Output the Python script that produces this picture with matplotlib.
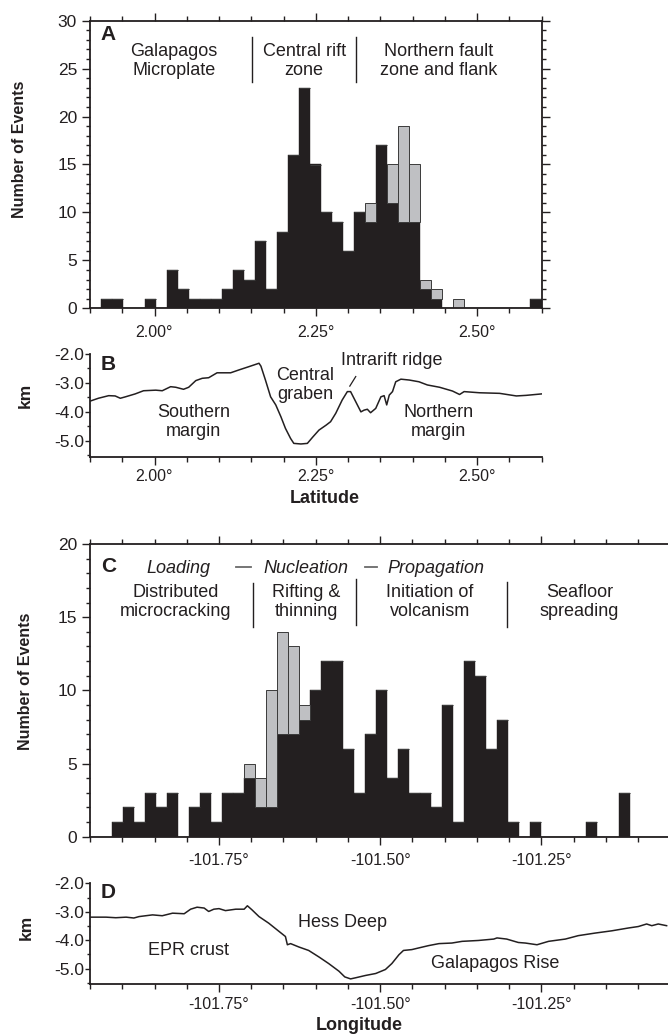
import matplotlib

matplotlib.use("Agg")

import matplotlib.pyplot as plt
import numpy as np
from matplotlib.ticker import FuncFormatter, MultipleLocator

plt.rcParams["font.family"] = ["Liberation Sans", "DejaVu Sans"]
plt.rcParams["axes.unicode_minus"] = False

INK = "#231f20"
GRAY = "#bfc0c3"

# ---- Panel A: events per latitude bin (41 bins, 1.90 - 2.60) ----
LAT_START, LAT_END = 1.90, 2.60
lat_black = [0, 1, 1, 0, 0, 1, 0, 4, 2, 1, 1, 1, 2, 4, 3, 7, 2, 8, 16, 23, 15,
             10, 9, 6, 10, 9, 17, 11, 9, 9, 2, 1, 0, 0, 0, 0, 0, 0, 0, 0, 1]
lat_gray = [0, 0, 0, 0, 0, 0, 0, 0, 0, 0, 0, 0, 0, 0, 0, 0, 0, 0, 0, 0, 0,
            0, 0, 0, 0, 2, 0, 4, 10, 6, 1, 1, 0, 1, 0, 0, 0, 0, 0, 0, 0]

# ---- Panel B: bathymetry along latitude ----
b_lat = [1.900, 1.913, 1.929, 1.939, 1.947, 1.955, 1.970, 1.983, 2.002, 2.012,
         2.025, 2.033, 2.045, 2.053, 2.064, 2.074, 2.084, 2.097, 2.118, 2.131,
         2.146, 2.162, 2.165, 2.172, 2.180, 2.188, 2.196, 2.203, 2.211, 2.216,
         2.227, 2.237, 2.245, 2.255, 2.266, 2.273, 2.281, 2.291, 2.299, 2.304,
         2.312, 2.320, 2.325, 2.330, 2.335, 2.343, 2.351, 2.356, 2.360, 2.364,
         2.369, 2.374, 2.382, 2.395, 2.410, 2.423, 2.442, 2.462, 2.473, 2.480,
         2.504, 2.535, 2.561, 2.576, 2.600]
b_depth = [-3.63, -3.53, -3.44, -3.45, -3.53, -3.48, -3.38, -3.27, -3.25, -3.27,
           -3.13, -3.15, -3.22, -3.15, -2.92, -2.84, -2.82, -2.65, -2.65, -2.55,
           -2.44, -2.32, -2.42, -2.90, -3.48, -3.76, -4.17, -4.57, -4.92, -5.09,
           -5.11, -5.09, -4.88, -4.63, -4.46, -4.34, -4.05, -3.59, -3.30, -3.30,
           -3.65, -4.00, -3.94, -3.91, -4.03, -3.88, -3.48, -3.44, -3.76, -3.42,
           -3.30, -2.96, -2.87, -2.90, -2.96, -3.07, -3.15, -3.28, -3.40, -3.30,
           -3.34, -3.36, -3.45, -3.43, -3.38]

# ---- Panel C: events per longitude bin (same bin width as A) ----
LON_START, LON_END = -101.95, -101.05
lon_black = [0, 0, 1, 2, 1, 3, 2, 3, 0, 2, 3, 1, 3, 3, 4, 2, 2, 7, 7, 8, 10,
             12, 12, 6, 3, 7, 10, 4, 6, 3, 3, 2, 9, 1, 12, 11, 6, 8, 1, 0, 1,
             0, 0, 0, 0, 1, 0, 0, 3, 0, 0, 0, 0]
lon_gray = [0, 0, 0, 0, 0, 0, 0, 0, 0, 0, 0, 0, 0, 0, 1, 2, 8, 7, 6, 1, 0,
            0, 0, 0, 0, 0, 0, 0, 0, 0, 0, 0, 0, 0, 0, 0, 0, 0, 0, 0, 0,
            0, 0, 0, 0, 0, 0, 0, 0, 0, 0, 0, 0]

# ---- Panel D: bathymetry along longitude ----
d_lon = [-101.949, -101.925, -101.910, -101.894, -101.882, -101.874, -101.853,
         -101.838, -101.822, -101.804, -101.794, -101.784, -101.773, -101.766,
         -101.758, -101.750, -101.740, -101.724, -101.711, -101.706, -101.699,
         -101.688, -101.673, -101.657, -101.647, -101.644, -101.639, -101.626,
         -101.611, -101.595, -101.580, -101.564, -101.555, -101.546, -101.538,
         -101.523, -101.507, -101.492, -101.482, -101.471, -101.464, -101.451,
         -101.440, -101.425, -101.409, -101.389, -101.373, -101.348, -101.324,
         -101.319, -101.304, -101.286, -101.275, -101.257, -101.239, -101.213,
         -101.193, -101.167, -101.141, -101.115, -101.100, -101.087, -101.079,
         -101.069, -101.056]
d_depth = [-3.19, -3.19, -3.21, -3.19, -3.22, -3.17, -3.11, -3.14, -3.05, -3.07,
           -2.91, -2.84, -2.87, -2.99, -2.91, -2.89, -2.96, -2.91, -2.91, -2.79,
           -2.93, -3.17, -3.40, -3.69, -3.87, -4.16, -4.12, -4.24, -4.36, -4.59,
           -4.82, -5.09, -5.29, -5.36, -5.32, -5.24, -5.17, -5.03, -4.82, -4.51,
           -4.36, -4.33, -4.27, -4.19, -4.12, -4.10, -4.04, -4.01, -3.96, -3.92,
           -3.96, -4.08, -4.10, -4.16, -4.04, -3.96, -3.84, -3.75, -3.67, -3.57,
           -3.52, -3.43, -3.49, -3.43, -3.49]

W, H = 668, 1034
BIN_WIDTH = (LAT_END - LAT_START) / len(lat_black)


def axes_px(fig, left, top, right, bottom):
    return fig.add_axes([left / W, 1 - bottom / H, (right - left) / W, (bottom - top) / H])


def fig_text(fig, px, py, s, **kw):
    fig.text(px / W, 1 - py / H, s, color=INK, **kw)


def deg_fmt(v, pos):
    return f"{v:.2f}\u00b0"


def style_axes(ax, ymajor_len=5.8, yminor_len=3.2):
    for sp in ax.spines.values():
        sp.set_linewidth(1.3)
        sp.set_color(INK)
    ax.tick_params(which="both", direction="out", color=INK, width=1.0, labelcolor=INK)
    ax.tick_params(axis="x", which="major", length=5.8, labelsize=11.5)
    ax.tick_params(axis="x", which="minor", length=3.4)
    ax.tick_params(axis="y", which="major", length=ymajor_len, labelsize=12.5)
    ax.tick_params(axis="y", which="minor", length=yminor_len)
    ax.xaxis.set_major_locator(MultipleLocator(0.25))
    ax.xaxis.set_minor_locator(MultipleLocator(0.05))
    ax.xaxis.set_major_formatter(FuncFormatter(deg_fmt))


def draw_hist(ax, start, black, gray):
    lefts = start + BIN_WIDTH * np.arange(len(black))
    ax.bar(lefts, black, width=BIN_WIDTH, align="edge", color=INK,
           edgecolor=INK, linewidth=0.3)
    ax.bar(lefts, gray, bottom=black, width=BIN_WIDTH, align="edge", color=GRAY,
           edgecolor="#3a3a3a", linewidth=0.7)


def divider(ax, x, y0, y1):
    ax.plot([x, x], [y0, y1], color=INK, lw=1.0)


fig = plt.figure(figsize=(W / 100, H / 100), dpi=100)

# ---------------- A ----------------
ax = axes_px(fig, 90, 20.7, 541.5, 308.3)
draw_hist(ax, LAT_START, lat_black, lat_gray)
ax.set_xlim(LAT_START, LAT_END)
ax.set_ylim(0, 30)
style_axes(ax)
ax.yaxis.set_major_locator(MultipleLocator(5))
ax.yaxis.set_minor_locator(MultipleLocator(1))
ax.tick_params(which="both", top=True, right=True, labeltop=False, labelright=False)
ax.tick_params(axis="x", which="major", pad=6)
ax.text(1.9165, 28.6, "A", fontsize=15, fontweight="bold", color=INK, ha="left", va="center")
kw = dict(fontsize=13, color=INK, ha="center", va="center", linespacing=1.15)
ax.text(2.030, 25.8, "Galapagos\nMicroplate", **kw)
ax.text(2.232, 25.8, "Central rift\nzone", **kw)
ax.text(2.4405, 25.8, "Northern fault\nzone and flank", **kw)
divider(ax, 2.1511, 23.6, 28.3)
divider(ax, 2.3126, 23.6, 28.3)
fig_text(fig, 19.5, 149, "Number of Events", fontsize=11.5, fontweight="bold",
         rotation=90, ha="center", va="center")

# ---------------- B ----------------
ax = axes_px(fig, 90, 354, 541.5, 456.7)
ax.plot(b_lat, b_depth, color=INK, lw=1.1)
ax.set_xlim(LAT_START, LAT_END)
ax.set_ylim(-5.55, -2.0)
style_axes(ax, ymajor_len=3.4, yminor_len=2.4)
ax.spines["top"].set_visible(False)
ax.spines["right"].set_visible(False)
ax.yaxis.set_major_locator(MultipleLocator(1.0))
ax.yaxis.set_minor_locator(MultipleLocator(0.5))
ax.yaxis.set_major_formatter(FuncFormatter(lambda v, p: f"{v:.1f}"))
ax.tick_params(axis="y", which="major", pad=1)
ax.tick_params(axis="x", which="major", pad=3)
ax.text(1.9165, -2.35, "B", fontsize=15, fontweight="bold", color=INK, ha="left", va="center")
ax.text(2.061, -4.35, "Southern\nmargin", **kw)
ax.text(2.2337, -3.06, "Central\ngraben", **kw)
ax.text(2.368, -2.21, "Intrarift ridge", **kw)
ax.plot([2.312, 2.3028], [-2.78, -3.11], color=INK, lw=0.9)
ax.text(2.4405, -4.35, "Northern\nmargin", **kw)
fig_text(fig, 25, 395, "km", fontsize=12.5, fontweight="bold", rotation=90,
         ha="center", va="center")
fig_text(fig, 325, 499, "Latitude", fontsize=13, fontweight="bold",
         ha="center", va="center")

# ---------------- C ----------------
ax = axes_px(fig, 90, 544, 670.5, 836.7)
draw_hist(ax, LON_START, lon_black, lon_gray)
ax.set_xlim(LON_START, LON_END)
ax.set_ylim(0, 20)
style_axes(ax)
ax.yaxis.set_major_locator(MultipleLocator(5))
ax.yaxis.set_minor_locator(MultipleLocator(1))
ax.tick_params(which="both", top=True, right=False, labeltop=False)
ax.tick_params(axis="x", which="major", pad=6)
ax.text(-101.9326, 18.43, "C", fontsize=15, fontweight="bold", color=INK, ha="left", va="center")
ikw = dict(fontsize=13, color=INK, ha="center", va="center", style="italic")
ax.text(-101.8123, 18.3, "Loading", **ikw)
ax.text(-101.6158, 18.3, "Nucleation", **ikw)
ax.text(-101.4132, 18.3, "Propagation", **ikw)
ax.plot([-101.723, -101.6997], [18.46, 18.46], color="#6a6a6a", lw=1.3)
ax.plot([-101.5237, -101.5056], [18.46, 18.46], color="#6a6a6a", lw=1.3)
ax.text(-101.817, 16.04, "Distributed\nmicrocracking", **kw)
ax.text(-101.6143, 16.04, "Rifting &\nthinning", **kw)
ax.text(-101.4226, 16.04, "Initiation of\nvolcanism", **kw)
ax.text(-101.1911, 16.04, "Seafloor\nspreading", **kw)
divider(ax, -101.6972, 14.31, 17.32)
divider(ax, -101.5377, 14.47, 17.59)
divider(ax, -101.3028, 14.31, 17.43)
fig_text(fig, 25.5, 681, "Number of Events", fontsize=11.5, fontweight="bold",
         rotation=90, ha="center", va="center")

# ---------------- D ----------------
ax = axes_px(fig, 90, 883.3, 670.5, 984.3)
ax.plot(d_lon, d_depth, color=INK, lw=1.1)
ax.set_xlim(LON_START, LON_END)
ax.set_ylim(-5.55, -2.0)
style_axes(ax, ymajor_len=3.4, yminor_len=2.4)
ax.spines["top"].set_visible(False)
ax.spines["right"].set_visible(False)
ax.yaxis.set_major_locator(MultipleLocator(1.0))
ax.yaxis.set_minor_locator(MultipleLocator(0.5))
ax.yaxis.set_major_formatter(FuncFormatter(lambda v, p: f"{v:.1f}"))
ax.tick_params(axis="y", which="major", pad=1)
ax.tick_params(axis="x", which="major", pad=3)
ax.text(-101.933, -2.32, "D", fontsize=15, fontweight="bold", color=INK, ha="left", va="center")
ax.text(-101.558, -3.38, "Hess Deep", **kw)
ax.text(-101.798, -4.36, "EPR crust", **kw)
ax.text(-101.322, -4.82, "Galapagos Rise", **kw)
fig_text(fig, 26, 927, "km", fontsize=12.5, fontweight="bold", rotation=90,
         ha="center", va="center")
fig_text(fig, 359, 1026, "Longitude", fontsize=13, fontweight="bold",
         ha="center", va="center")

fig.savefig("out.png", dpi=100)
plt.close(fig)
